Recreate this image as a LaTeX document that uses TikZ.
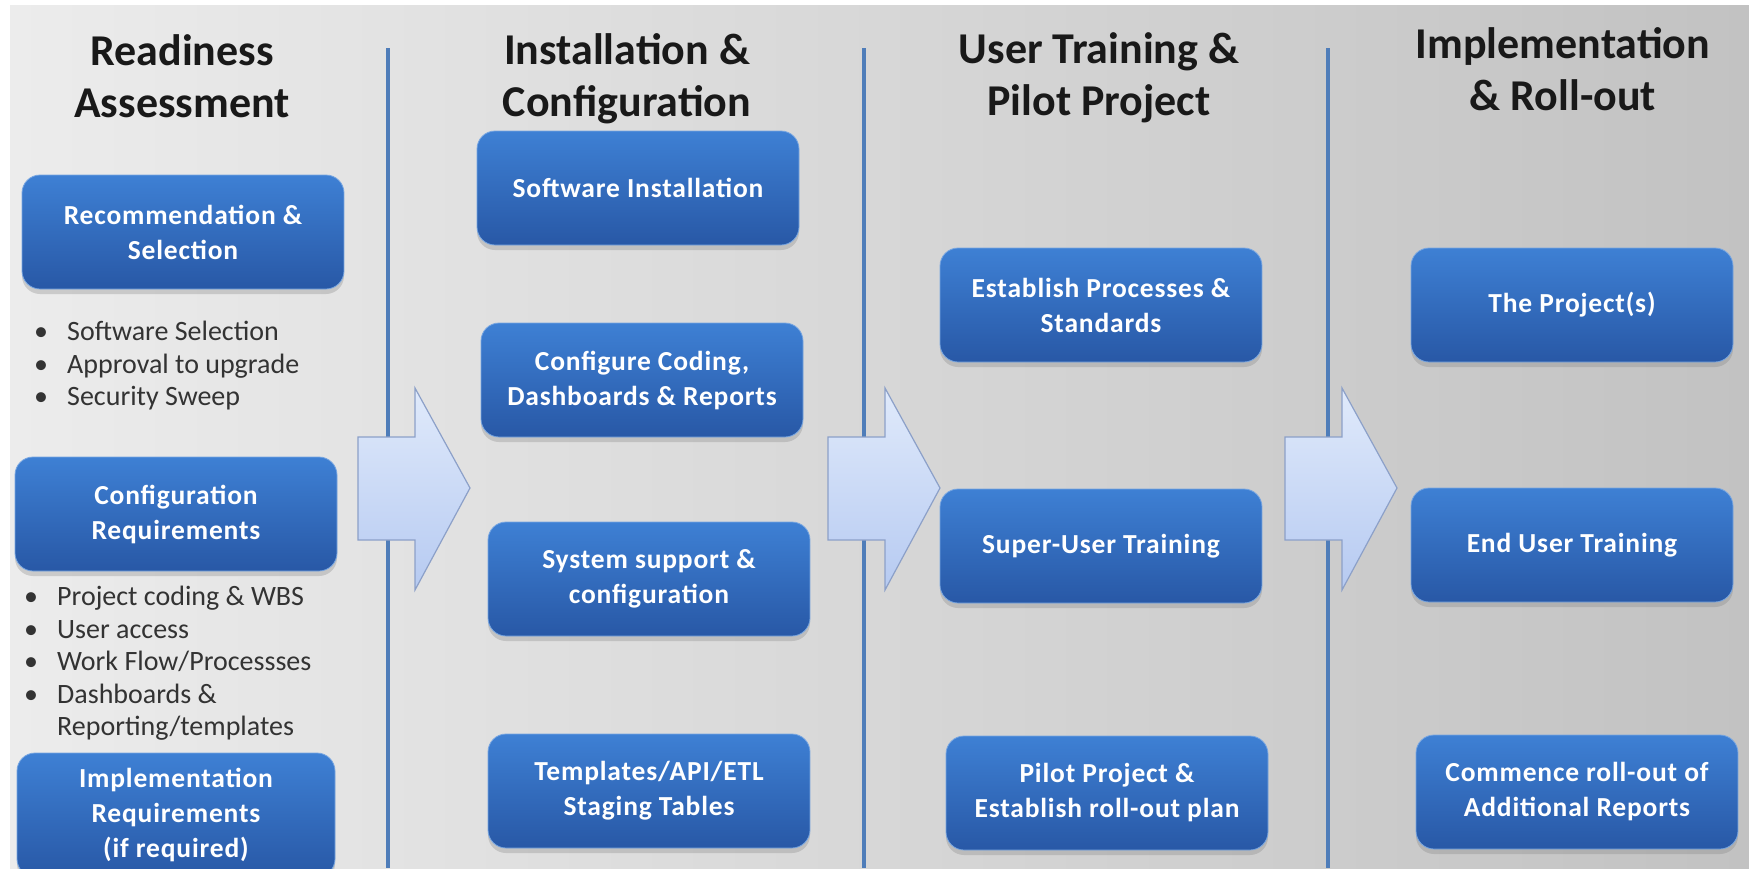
\documentclass[tikz,border=0pt]{standalone}
\usepackage{fontspec}
\setmainfont{Carlito}
\usepackage{tikz}
\usetikzlibrary{shadows,positioning}
\definecolor{myboxtop}{RGB}{62,128,212}
\definecolor{myboxbottom}{RGB}{40,88,166}
\definecolor{mybgleft}{RGB}{236,236,236}
\definecolor{mybgright}{RGB}{194,194,194}
\definecolor{myline}{RGB}{79,125,185}
\definecolor{myarrowtop}{RGB}{224,234,251}
\definecolor{myarrowbottom}{RGB}{182,202,241}
\definecolor{myarrowdraw}{RGB}{140,160,200}
\definecolor{mytext}{RGB}{51,51,51}
\newcommand{\mybullet}{\makebox[33pt][l]{\textbullet}}

\begin{document}
\begin{tikzpicture}[
  x=1pt, y=-1pt,
  mybox/.style={
    rectangle,
    rounded corners=18pt,
    top color=myboxtop,
    bottom color=myboxbottom,
    draw=myboxtop!70!white,
    line width=0.8pt,
    drop shadow={opacity=0.3, shadow xshift=0pt, shadow yshift=-5pt},
    minimum width=322pt,
    minimum height=114pt,
    text=white,
    align=center,
    font=\bfseries\fontsize{27.5}{35}\selectfont\addfontfeature{LetterSpace=3}
    },
  mytitle/.style={
    align=center,
    text=black!90,
    font=\bfseries\fontsize{44}{52}\selectfont
    },
  mylist/.style={
    anchor=north west,
    align=left,
    inner sep=0pt,
    text=mytext,
    font=\fontsize{28}{32.5}\selectfont
    },
  mysep/.style={
    draw=myline,
    line width=4pt
    },
  myarrow/.style={
    draw=myarrowdraw,
    line width=1.2pt,
    top color=myarrowtop,
    bottom color=myarrowbottom
    }
]

\clip (0,0) rectangle (1749,868);
\fill[white] (0,0) rectangle (1749,868);
\fill[left color=mybgleft, right color=mybgright] (10,5) rectangle (1749,868);

% column separators and block arrows
\foreach \lx in {388,864,1328}
  \draw[mysep] (\lx,48) -- (\lx,868);
\foreach \ax in {358,828,1285}
  \draw[myarrow] (\ax,437) -- ++(57,0) -- ++(0,-49) -- ++(55,100) -- ++(-55,102) -- ++(0,-50) -- ++(-57,0) -- cycle;

% titles
\node[mytitle] (ttlready) at (182,76) {Readiness\\Assessment};
\node[mytitle] (ttlinst) at (627,79) {Installation \&\\Configuration};
\node[mytitle] (ttltrain) at (1099,78) {User Training \&\\Pilot Project};
\node[mytitle] (ttlimpl) at (1563,69) {Implementation\\\& Roll-out};

% readiness assessment
\node[mybox] (recsel) at (183,232) {Recommendation \&\\Selection};
\node[mylist] (listsel) at (34,321) {\mybullet Software Selection\\\mybullet Approval to upgrade\\\mybullet Security Sweep};
\node[mybox] (confreq) at (176,514) {Configuration\\Requirements};
\node[mylist] (listreq) at (24,586) {\mybullet Project coding \& WBS\\\mybullet User access\\\mybullet Work Flow/Processses\\\mybullet Dashboards \&\\\hspace*{33pt}Reporting/templates};
\node[mybox, minimum width=318pt, minimum height=124pt] (implreq) at (176,815) {Implementation\\Requirements\\(if required)};

% installation & configuration
\node[mybox] (swinst) at (638,188) {Software Installation};
\node[mybox] (confcode) at (642,380) {Configure Coding,\\Dashboards \& Reports};
\node[mybox] (syssup) at (649,579) {System support \&\\configuration};
\node[mybox] (templ) at (649,791) {Templates/API/ETL\\Staging Tables};

% user training & pilot project
\node[mybox] (estproc) at (1101,305) {Establish Processes \&\\Standards};
\node[mybox] (superuser) at (1101,546) {Super-User Training};
\node[mybox] (pilot) at (1107,793) {Pilot Project \&\\Establish roll-out plan};

% implementation & roll-out
\node[mybox] (projects) at (1572,305) {The Project(s)};
\node[mybox] (enduser) at (1572,545) {End User Training};
\node[mybox] (commence) at (1577,792) {Commence roll-out of\\Additional Reports};

\end{tikzpicture}
\end{document}
